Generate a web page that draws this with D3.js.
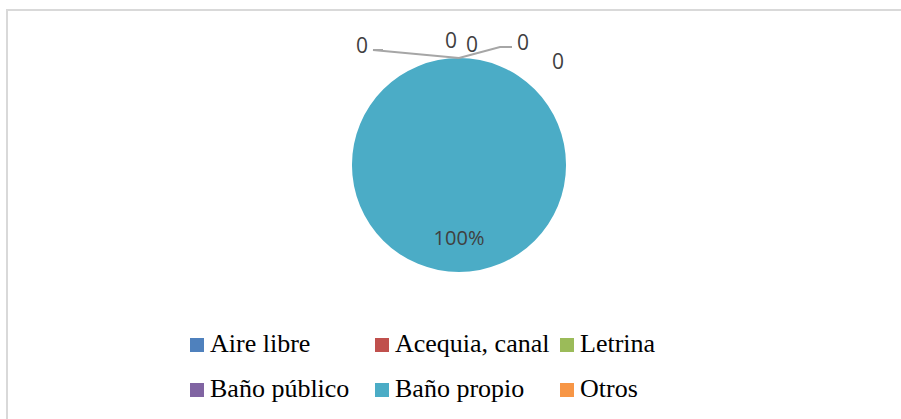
<!DOCTYPE html>
<html>
<head>
<meta charset="utf-8">
<script src="https://cdn.jsdelivr.net/npm/d3@7"></script>
<style>
  body { margin: 0; background: #fff; }
  svg { display: block; }
</style>
</head>
<body>
<svg id="chart" width="901" height="419"></svg>
<script>
// data
const categories = ["Aire libre", "Acequia, canal", "Letrina", "Baño público", "Baño propio", "Otros"];
const values = [0, 0, 0, 0, 100, 0];
const colors = ["#4f81bd", "#c0504d", "#9bbb59", "#8064a2", "#4bacc6", "#f79646"];

const labelGray = "#404040";
const leaderGray = "#a6a6a6";

const width = 901, height = 419;
const cx = 459, cy = 165, radius = 107;

const svg = d3.select("#chart");

// chart border
svg.append("rect")
    .attr("x", 7)
    .attr("y", 10)
    .attr("width", width)
    .attr("height", height)
    .style("fill", "none")
    .style("stroke", "#d9d9d9")
    .style("stroke-width", 2);

const total = d3.sum(values);
const pie = d3.pie().sort(null).value(d => d.value);
const arc = d3.arc().innerRadius(0).outerRadius(radius);

const slices = pie(categories.map((c, i) => ({ name: c, value: values[i], color: colors[i] })));

const g = svg.append("g")
    .attr("transform", `translate(${cx}, ${cy})`);

g.selectAll(".slice")
    .data(slices.filter(d => d.value > 0))
    .enter()
    .append("path")
    .attr("class", "slice")
    .attr("d", arc)
    .style("fill", d => d.data.color);

// zero-value labels get pushed out above the pie (excel style), offsets from the arc edge point
const zeroOffsets = [
    { dx: -97, dy: -11, leader: [[-86, -8], [-76, -8]] },
    { dx: -8, dy: -16, leader: null },
    { dx: 13, dy: -12, leader: null },
    { dx: 64, dy: -14, leader: [[41, -11], [53, -11]] },
    null,
    { dx: 99, dy: 5, leader: null }
];

const labelFont = "'Open Sans', 'Noto Sans', sans-serif";

slices.forEach((d, i) => {
    const pct = d.value / total;
    if (d.value > 0) {
        // big slice: label inside, lower part
        const [lx, ly] = d3.arc().innerRadius(0).outerRadius(radius * 1.4).centroid(d);
        g.append("text")
            .attr("x", lx)
            .attr("y", ly)
            .attr("text-anchor", "middle")
            .attr("dominant-baseline", "middle")
            .style("font-family", labelFont)
            .style("font-size", "20px")
            .style("fill", labelGray)
            .text(d3.format(".0%")(pct));
        return;
    }
    const off = zeroOffsets[i];
    const ax = Math.sin(d.startAngle) * radius;
    const ay = -Math.cos(d.startAngle) * radius;
    if (off.leader) {
        const pts = [[ax, ay]].concat(off.leader.map(p => [ax + p[0], ay + p[1]]));
        g.append("path")
            .attr("d", d3.line()(pts))
            .style("fill", "none")
            .style("stroke", leaderGray)
            .style("stroke-width", 2);
    }
    g.append("text")
        .attr("x", ax + off.dx)
        .attr("y", ay + off.dy)
        .attr("text-anchor", "middle")
        .attr("dominant-baseline", "middle")
        .style("font-family", labelFont)
        .style("font-size", "21px")
        .style("fill", labelGray)
        .text(d.value);
});

// legend
const legendX = d3.scalePoint().domain([0, 1, 2]).range([190, 560]);
const legendY = d3.scalePoint().domain([0, 1]).range([352, 397]);

const legend = svg.selectAll(".legend-item")
    .data(categories)
    .enter()
    .append("g")
    .attr("class", "legend-item")
    .attr("transform", (d, i) => `translate(${legendX(i % 3)}, ${legendY(Math.floor(i / 3))})`);

legend.append("rect")
    .attr("x", 0)
    .attr("y", -14)
    .attr("width", 14)
    .attr("height", 14)
    .style("fill", (d, i) => colors[i]);

legend.append("text")
    .attr("x", 20)
    .attr("y", 0)
    .style("font-family", "'Liberation Serif', 'Times New Roman', serif")
    .style("font-size", "26px")
    .style("fill", "#000")
    .text(d => d);
</script>
</body>
</html>
